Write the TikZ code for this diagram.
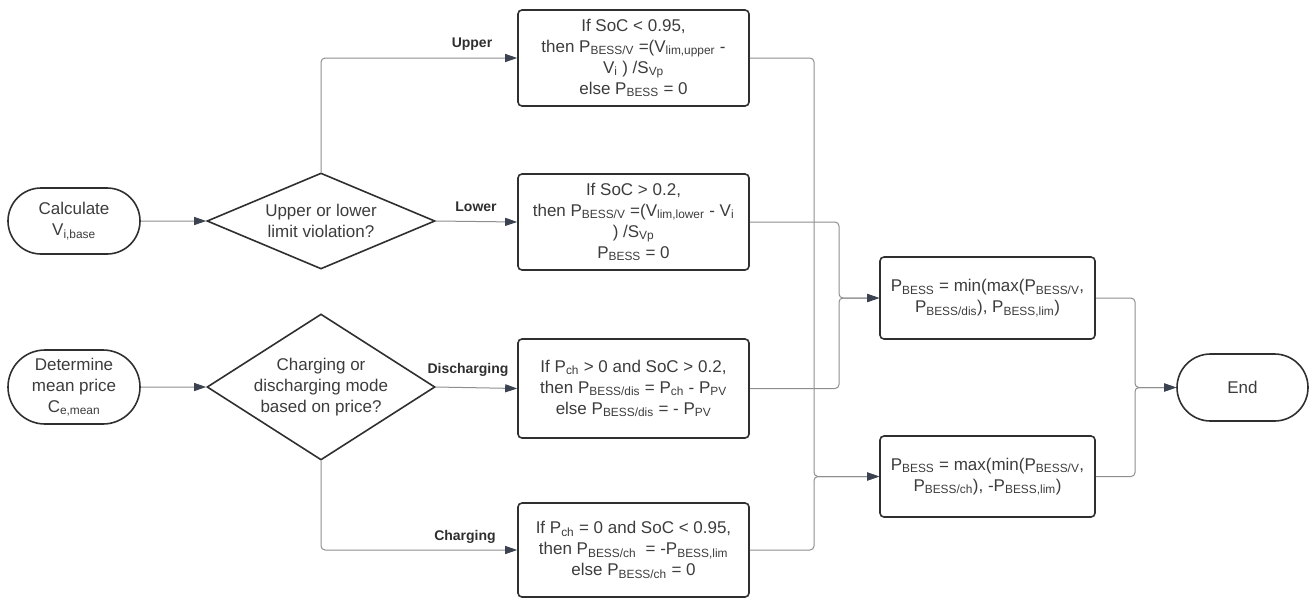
\documentclass[tikz,border=0pt]{standalone}
\usepackage{fontspec}
\setmainfont{Liberation Sans}
\usetikzlibrary{shapes.geometric,shapes.misc,arrows.meta,positioning}
\definecolor{edgegray}{HTML}{8E8E8E}
\definecolor{boxline}{HTML}{2F2F2F}
\definecolor{tipcol}{HTML}{3B4250}
\definecolor{txtcol}{HTML}{3C3C3C}
\newcommand{\subtx}[1]{\textsubscript{#1}}

\begin{document}
\begin{tikzpicture}[x=1pt,y=-1pt,
  font=\fontsize{17}{21}\selectfont, text=txtcol,
  term/.style={rounded rectangle, draw=boxline, line width=1.6pt, minimum width=132pt, inner sep=0pt, align=center},
  dia/.style={diamond, draw=boxline, line width=1.6pt, minimum width=228pt, inner sep=0pt},
  stepbox/.style={rectangle, rounded corners=4pt, draw=boxline, line width=1.6pt, minimum width=231pt, inner sep=0pt, align=center},
  resbox/.style={stepbox, minimum width=215pt},
  txt/.style={align=center},
  lab/.style={font=\fontsize{14}{16}\selectfont\bfseries, text=boxline},
  conn/.style={draw=edgegray, line width=1pt, rounded corners=4pt, -{Triangle[length=12pt,width=8pt,color=tipcol]}}]

\useasboundingbox (0,0) rectangle (1314,598);

% start nodes and decisions
\node[term, minimum height=66pt] (calc) at (74,221) {Calculate\\V\subtx{i,base}};
\node[term, minimum height=74pt] (det) at (74,387) {Determine\\mean price\\C\subtx{e,mean}};
\node[dia, minimum height=96pt] (limit) at (321,221) {};
\node[txt] (limittxt) at (limit) {Upper or lower\\limit violation?};
\node[dia, minimum height=146pt] (mode) at (321,387) {};
\node[txt] (modetxt) at (mode) {Charging or\\discharging mode\\based on price?};

% branch boxes
\node[stepbox, minimum height=96pt] (upper) at (633.5,58) {If SoC < 0.95,\\then P\subtx{BESS/V} =(V\subtx{lim,upper} -\\V\subtx{i} ) /S\subtx{Vp}\\else P\subtx{BESS} = 0};
\node[stepbox, minimum height=96pt] (lower) at (633.5,222) {If SoC > 0.2,\\then P\subtx{BESS/V} =(V\subtx{lim,lower} - V\subtx{i}\\) /S\subtx{Vp}\\P\subtx{BESS} = 0};
\node[stepbox, minimum height=99pt] (disch) at (633.5,388.5) {If P\subtx{ch} > 0 and SoC > 0.2,\\then P\subtx{BESS/dis} = P\subtx{ch} - P\subtx{PV}\\else P\subtx{BESS/dis} = - P\subtx{PV}};
\node[stepbox, minimum height=94pt] (charg) at (633.5,550) {If P\subtx{ch} = 0 and SoC < 0.95,\\then P\subtx{BESS/ch}\ \ = -P\subtx{BESS,lim}\\else P\subtx{BESS/ch} = 0};

% results
\node[resbox, minimum height=82pt] (minbox) at (987.5,298) {P\subtx{BESS} = min(max(P\subtx{BESS/V},\\P\subtx{BESS/dis}), P\subtx{BESS,lim})};
\node[resbox, minimum height=81pt] (maxbox) at (987.5,476.5) {P\subtx{BESS} = max(min(P\subtx{BESS/V},\\P\subtx{BESS/ch}), -P\subtx{BESS,lim})};
\node[term, minimum width=131pt, minimum height=67pt] (end) at (1242.5,387.5) {End};

\coordinate (busA) at (814,0);
\coordinate (busB) at (839,0);
\coordinate (busC) at (1135,0);

% connectors
\draw[conn] (calc) -- (limit);
\draw[conn] (det) -- (mode);
\draw[conn] (limit.north) |- (upper.west);
\draw[conn] (limit.east) -- (lower.west);
\draw[conn] (mode.east) -- (disch.west);
\draw[conn] (mode.south) |- (charg.west);
\draw[conn] (upper.east) -| (busA |- maxbox.west) -- (maxbox.west);
\draw[conn] (charg.east) -| (busA |- maxbox.west) -- (maxbox.west);
\draw[conn] (lower.east) -| (busB |- minbox.west) -- (minbox.west);
\draw[conn] (disch.east) -| (busB |- minbox.west) -- (minbox.west);
\draw[conn] (minbox.east) -| (busC |- end.west) -- (end.west);
\draw[conn] (maxbox.east) -| (busC |- end.west) -- (end.west);

\node[lab] (labup) at (472,44) {Upper};
\node[lab] (lablow) at (476,207) {Lower};
\node[lab] (labdis) at (468,370) {Discharging};
\node[lab] (labch) at (465,537) {Charging};

\end{tikzpicture}
\end{document}
